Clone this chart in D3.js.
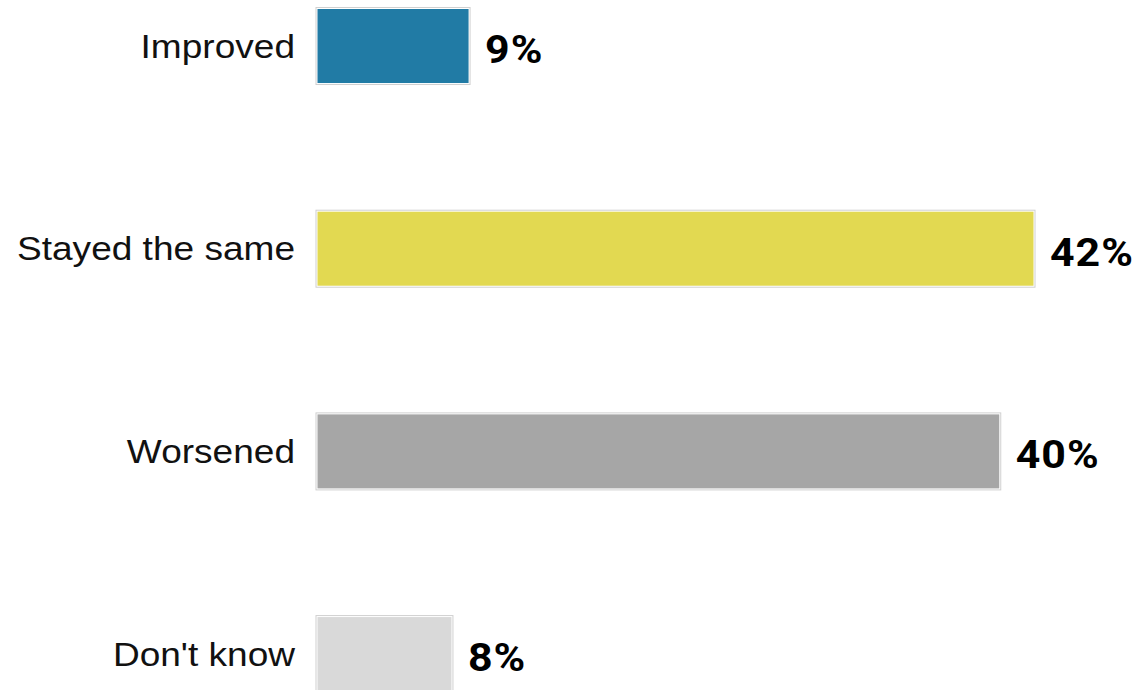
<!DOCTYPE html>
<html><head><meta charset="utf-8">
<script src="https://cdn.jsdelivr.net/npm/d3@7"></script>
<style>body{margin:0;background:#fff;overflow:hidden}svg{display:block}</style>
</head><body>
<svg id="c" width="1137" height="690"></svg>
<script>
const categories = ["Improved", "Stayed the same", "Worsened", "Don't know"];
const values = [9, 42, 40, 8];
const valueLabels = ["9%", "42%", "40%", "8%"];
const colors = ["#217ba5", "#e2d951", "#a6a6a6", "#d9d9d9"];

const svg = d3.select("#c");
const x = d3.scaleLinear().domain([0, 42]).range([316, 1035]);
const y = d3.scaleBand().domain(categories).range([7.5, 692.6]).paddingInner(0.62).paddingOuter(0);

const g = svg.selectAll("g.bar").data(categories).join("g").attr("class","bar");
g.append("rect")
  .attr("x", x(0)).attr("y", d => y(d))
  .attr("width", (d,i) => x(values[i]) - x(0)).attr("height", y.bandwidth())
  .attr("fill", "#fff").attr("stroke", "#d0d0d0").attr("stroke-width", 1);
g.append("rect")
  .attr("x", x(0) + 1.5).attr("y", d => y(d) + 1.5)
  .attr("width", (d,i) => x(values[i]) - x(0) - 3).attr("height", y.bandwidth() - 3)
  .attr("fill", (d,i) => colors[i]);

g.append("text")
  .attr("transform", d => `translate(295,${y(d) + y.bandwidth()/2 + 11.5}) scale(1.09,1)`)
  .attr("text-anchor", "end")
  .attr("font-family", "Liberation Sans, Arial, sans-serif")
  .attr("font-size", 34).attr("fill", "#111")
  .text(d => d);

g.append("text")
  .attr("transform", (d,i) => `translate(${x(values[i]) + 15},${y(d) + y.bandwidth()/2 + 17}) scale(1.1,1)`)
  .attr("font-family", "Roboto, sans-serif").attr("font-weight", 700)
  .attr("font-size", 39).attr("letter-spacing", 0.9).attr("fill", "#000")
  .text((d,i) => valueLabels[i]);
</script>
</body></html>
